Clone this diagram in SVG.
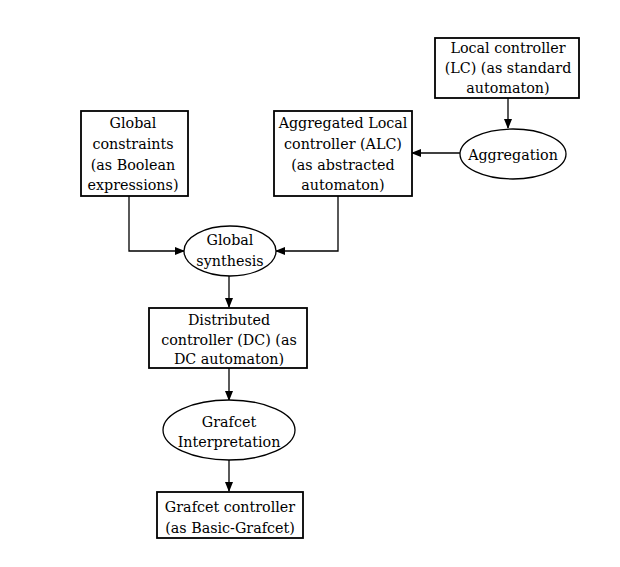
<svg xmlns="http://www.w3.org/2000/svg" width="620" height="567" viewBox="0 0 620 567">
<style>
.box{fill:#fff;stroke:#000;stroke-width:1.8}
.ell{fill:#fff;stroke:#000;stroke-width:1.3}
.t{font-family:"DejaVu Serif","Liberation Serif",serif;font-size:14.3px;fill:#000;text-anchor:middle}
.c{fill:none;stroke:#000;stroke-width:1.3}
</style>
<defs>
<marker id="ah" markerWidth="10" markerHeight="8" refX="9" refY="4" orient="auto" markerUnits="userSpaceOnUse">
<path d="M0,0 L10,4 L0,8 Z" fill="#000"/>
</marker>
</defs>
<rect width="620" height="567" fill="#fff"/>
<g id="connectors">
<path class="c" d="M508,98 V128" marker-end="url(#ah)"/>
<path class="c" d="M460,153 H412" marker-end="url(#ah)"/>
<path class="c" d="M129,196 V251 H184" marker-end="url(#ah)"/>
<path class="c" d="M338,196 V251 H276" marker-end="url(#ah)"/>
<path class="c" d="M229,276 V307" marker-end="url(#ah)"/>
<path class="c" d="M229,368 V400" marker-end="url(#ah)"/>
<path class="c" d="M229,460 V491" marker-end="url(#ah)"/>
</g>
<g id="lc">
<rect class="box" x="435" y="38" width="144" height="60"/>
<text class="t" x="508" y="53">Local controller</text>
<text class="t" x="508" y="73">(LC) (as standard</text>
<text class="t" x="508" y="93">automaton)</text>
</g>
<g id="aggregation">
<ellipse class="ell" cx="513" cy="154" rx="53" ry="25"/>
<text class="t" x="513" y="160">Aggregation</text>
</g>
<g id="gc">
<rect class="box" x="81" y="111" width="107" height="85"/>
<text class="t" x="133" y="128">Global</text>
<text class="t" x="133" y="149">constraints</text>
<text class="t" x="133" y="170">(as Boolean</text>
<text class="t" x="133" y="190">expressions)</text>
</g>
<g id="alc">
<rect class="box" x="274" y="111" width="138" height="85"/>
<text class="t" x="343" y="128">Aggregated Local</text>
<text class="t" x="343" y="149">controller (ALC)</text>
<text class="t" x="343" y="170">(as abstracted</text>
<text class="t" x="343" y="190">automaton)</text>
</g>
<g id="synthesis">
<ellipse class="ell" cx="230" cy="251" rx="46" ry="25"/>
<text class="t" x="230" y="245">Global</text>
<text class="t" x="230" y="266">synthesis</text>
</g>
<g id="dc">
<rect class="box" x="149" y="308" width="158" height="60"/>
<text class="t" x="229" y="325">Distributed</text>
<text class="t" x="229" y="345">controller (DC) (as</text>
<text class="t" x="229" y="364">DC automaton)</text>
</g>
<g id="interp">
<ellipse class="ell" cx="229" cy="430" rx="66" ry="30"/>
<text class="t" x="229" y="427">Grafcet</text>
<text class="t" x="229" y="447">Interpretation</text>
</g>
<g id="grafcet">
<rect class="box" x="157" y="492" width="146" height="46"/>
<text class="t" x="230" y="512">Grafcet controller</text>
<text class="t" x="230" y="533">(as Basic-Grafcet)</text>
</g>
</svg>
